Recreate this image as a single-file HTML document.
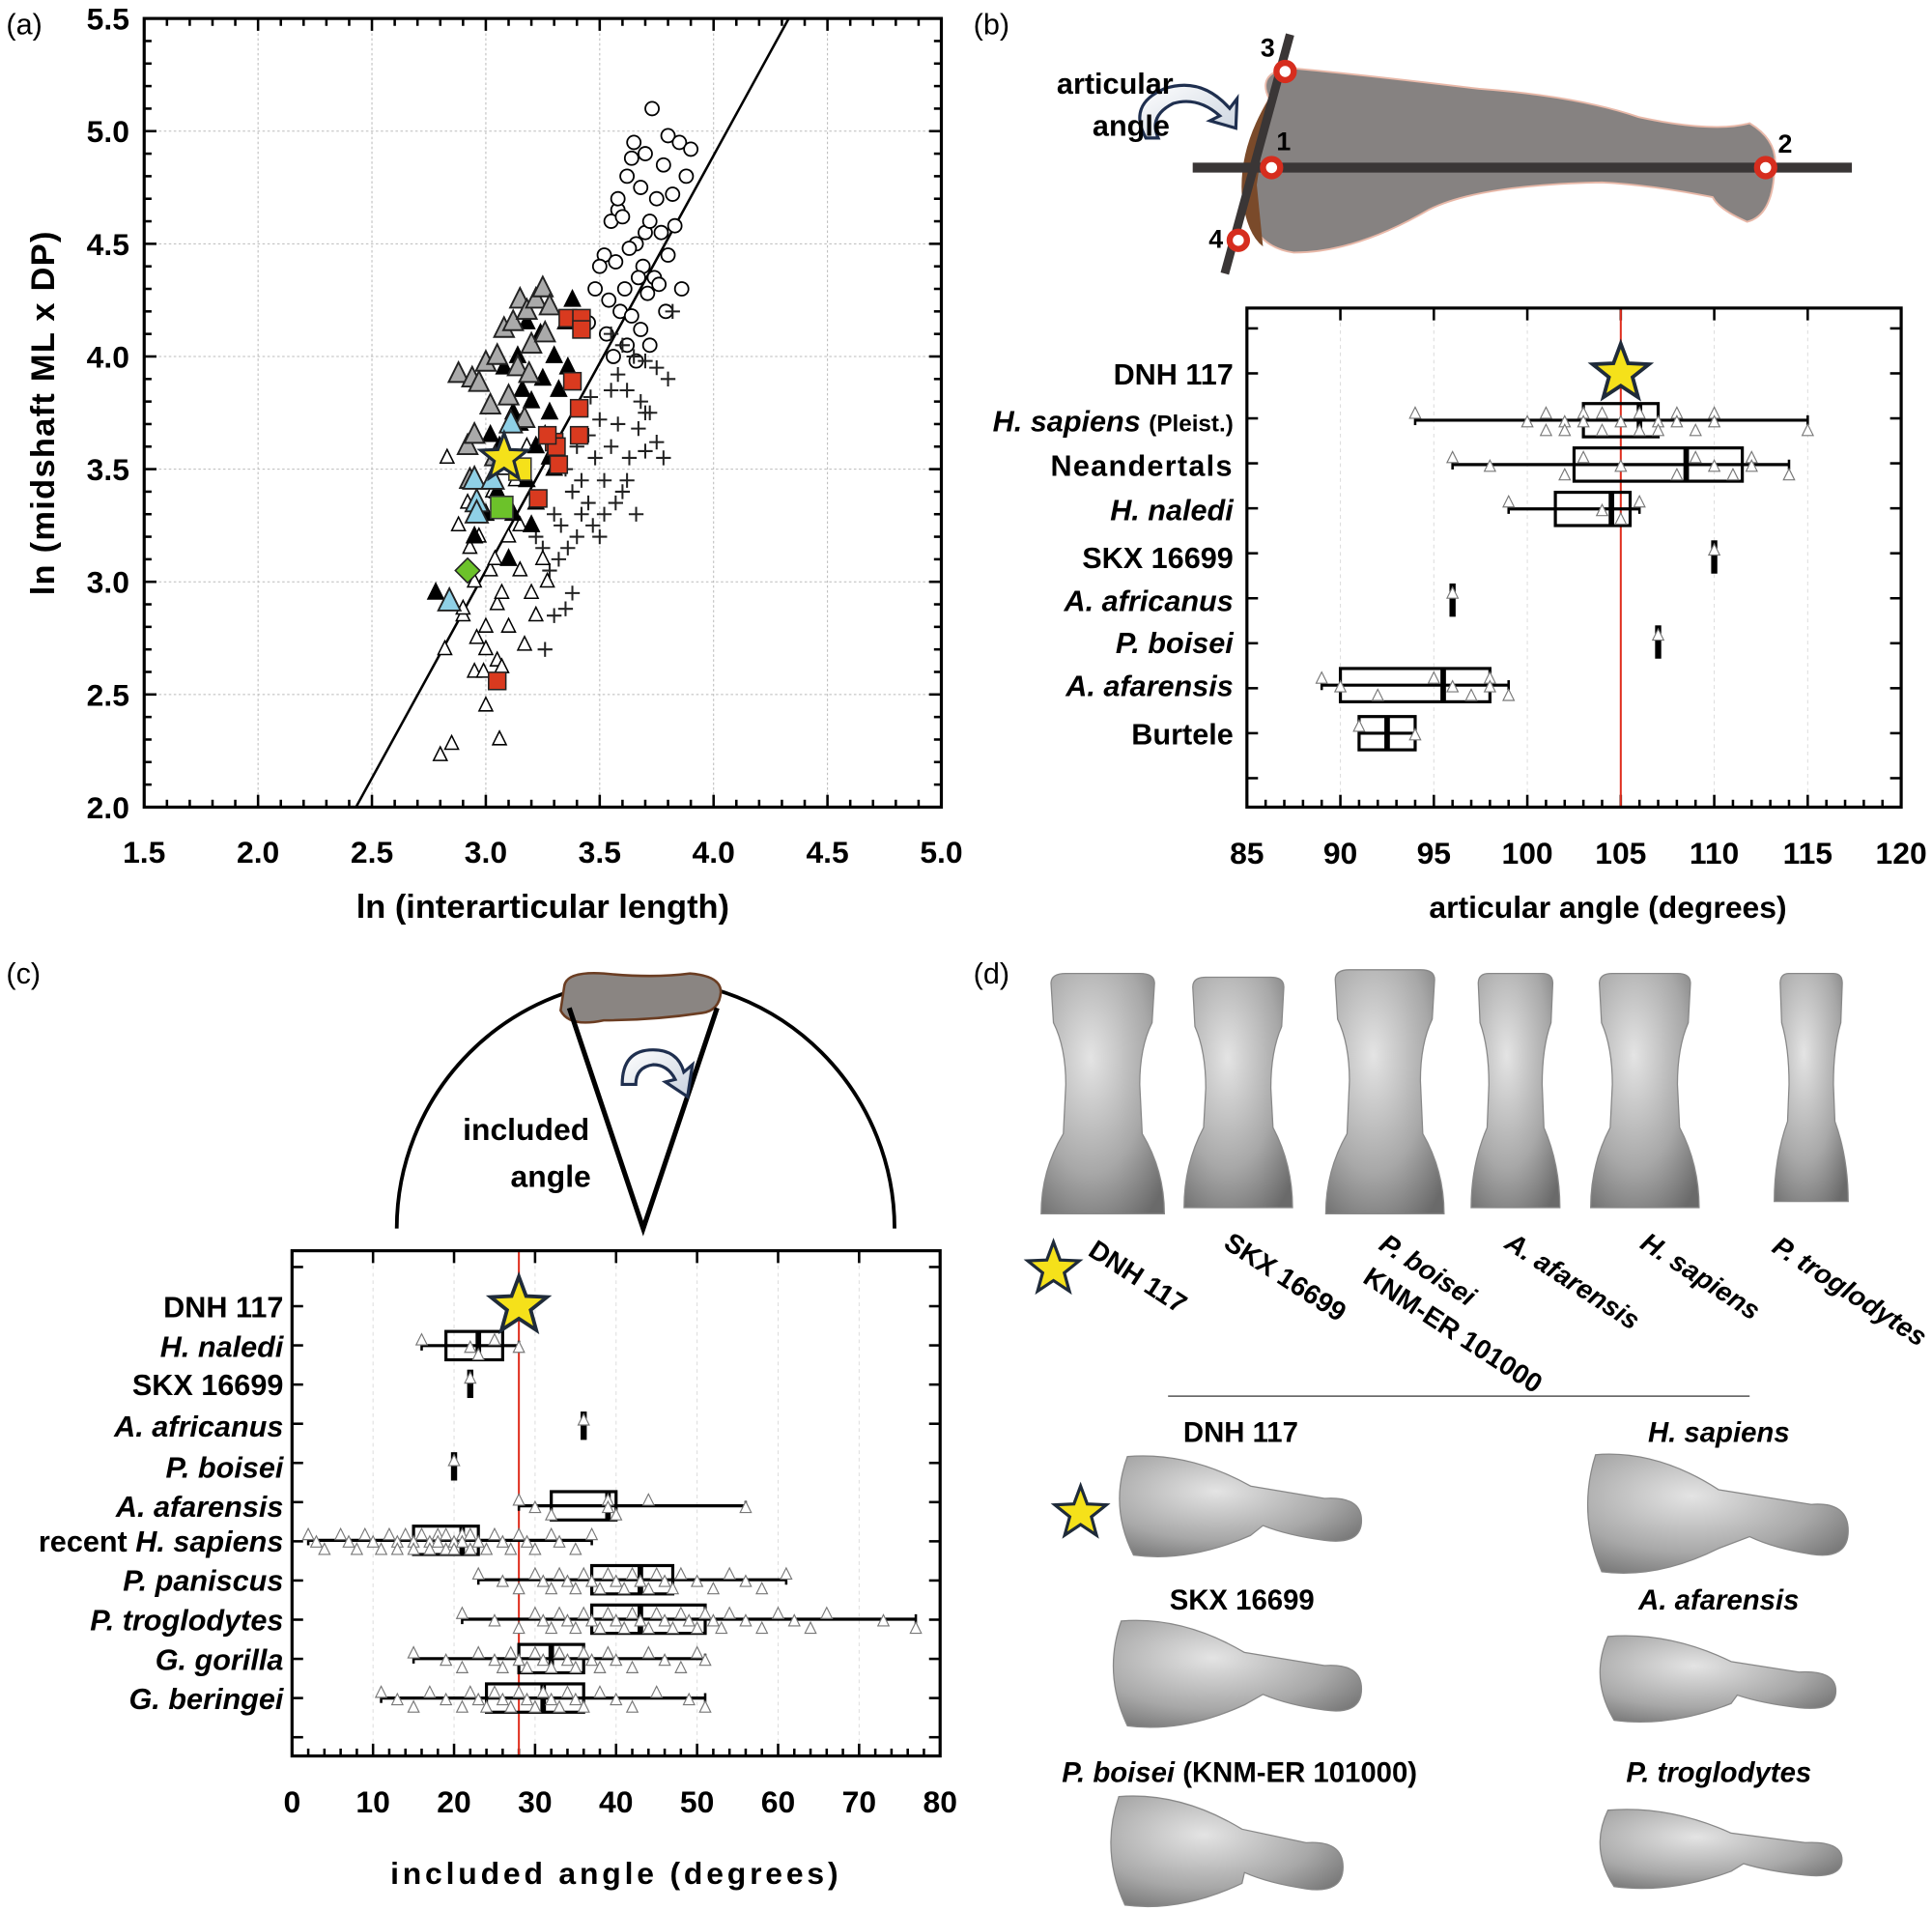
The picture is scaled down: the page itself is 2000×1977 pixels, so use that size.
<!DOCTYPE html>
<html><head><meta charset="utf-8">
<style>
html,body{margin:0;padding:0;background:#fff;}
svg{display:block;font-family:"Liberation Sans Narrow","Liberation Sans",sans-serif;}
.b{font-weight:bold;}
</style></head>
<body>
<svg id="fig" width="2000" height="1977" viewBox="0 0 1568 1550" xmlns="http://www.w3.org/2000/svg">
<defs>
<radialGradient id="boneG" cx="0.4" cy="0.35" r="0.8">
<stop offset="0" stop-color="#e4e4e4"/><stop offset="0.6" stop-color="#a8a8a8"/><stop offset="1" stop-color="#6a6a6a"/>
</radialGradient>
<linearGradient id="arrG" x1="0" y1="0" x2="1" y2="1"><stop offset="0" stop-color="#fff"/><stop offset="1" stop-color="#c9d2de"/></linearGradient>
</defs>
<g id="gA"></g>
<g id="gB"></g>
<g id="gC"></g>
<g id="gD"></g>
</svg>
<script>
// ===== Panel A data =====
const humanX=[3.73,3.65,3.70,3.80,3.85,3.78,3.62,3.68,3.75,3.82,3.58,3.55,3.60,3.70,3.72,3.66,3.77,3.83,3.52,3.50,3.57,3.63,3.69,3.74,3.80,3.48,3.54,3.61,3.67,3.71,3.76,3.59,3.64,3.45,3.53,3.86,3.79,3.68,3.62,3.56,3.72,3.66,3.90,3.88,3.58,3.64];
const humanY=[5.10,4.95,4.90,4.98,4.95,4.85,4.80,4.75,4.70,4.72,4.65,4.60,4.62,4.55,4.60,4.50,4.55,4.58,4.45,4.40,4.42,4.48,4.40,4.35,4.45,4.30,4.25,4.30,4.35,4.28,4.32,4.20,4.18,4.15,4.10,4.30,4.20,4.12,4.05,4.00,4.05,3.98,4.92,4.80,4.70,4.88];
const crossX=[3.55,3.60,3.65,3.70,3.75,3.80,3.62,3.68,3.72,3.58,3.50,3.45,3.40,3.48,3.55,3.63,3.70,3.78,3.52,3.42,3.35,3.38,3.45,3.60,3.66,3.30,3.33,3.40,3.47,3.57,3.25,3.32,3.28,3.36,3.50,3.62,3.70,3.42,3.38,3.30,3.26,3.35,3.22,3.55,3.82,3.67,3.75,3.58,3.46,3.52];
const crossY=[4.10,4.05,4.00,3.98,3.95,3.90,3.85,3.80,3.75,3.70,3.72,3.65,3.60,3.55,3.60,3.55,3.58,3.55,3.45,3.45,3.50,3.40,3.35,3.40,3.30,3.30,3.25,3.20,3.25,3.35,3.15,3.10,3.05,3.15,3.20,3.45,3.75,3.30,2.95,2.85,2.70,2.88,3.20,3.85,4.20,3.68,3.62,3.92,3.82,3.30];
const openTriX=[2.80,2.85,2.90,2.95,3.00,3.05,3.10,3.15,3.20,3.25,2.88,2.93,2.98,3.03,3.08,3.13,3.18,3.00,3.05,2.95,3.10,2.92,2.97,3.02,3.07,3.12,2.83,3.17,3.22,3.27,3.00,3.06,2.99,2.90,3.07,2.82,3.15,3.04,2.96];
const openTriY=[2.23,2.28,2.85,3.00,2.80,2.90,3.20,3.05,2.95,3.10,3.25,3.15,3.30,3.40,3.50,3.45,3.60,2.70,2.65,2.60,2.80,3.35,3.20,3.05,2.95,3.30,3.55,2.72,2.85,3.00,2.45,2.30,2.60,2.88,2.62,2.70,3.25,3.10,2.75];
const blackTriX=[2.78,2.95,3.00,3.05,3.10,3.15,3.20,3.25,3.30,3.35,3.12,3.18,3.22,3.28,3.32,3.38,3.08,3.14,3.24,3.26,3.20,3.16,3.10,3.30,3.36,3.02,3.18,3.22,3.12,3.28,3.06];
const blackTriY=[2.95,3.20,3.30,3.40,3.55,3.70,3.80,3.90,4.00,4.15,3.30,3.45,3.60,3.75,3.85,4.25,3.95,4.00,4.10,3.65,3.25,3.85,3.10,3.50,3.95,3.65,4.15,3.35,3.75,3.55,3.60];
const grayTriX=[2.88,2.94,2.97,2.92,2.95,3.00,3.05,3.08,3.12,3.15,3.18,3.22,3.25,3.28,3.14,3.20,3.02,3.10,2.93,3.17,3.26,3.04,3.19];
const grayTriY=[3.92,3.90,3.88,3.60,3.65,3.97,4.00,4.12,4.15,4.25,4.20,4.25,4.30,4.22,3.95,4.05,3.78,3.82,3.45,3.72,4.10,3.55,3.92];
const blueTriX=[2.84,2.96,2.96,2.95,3.11,3.03];
const blueTriY=[2.91,3.35,3.30,3.45,3.70,3.45];
const redSqX=[3.36,3.42,3.42,3.38,3.41,3.30,3.32,3.41,3.31,3.23,3.05,3.27];
const redSqY=[4.17,4.17,4.12,3.89,3.77,3.62,3.52,3.65,3.60,3.37,2.56,3.65];
const otherX=[3.15,3.07,2.92];
const otherY=[3.50,3.33,3.05];
const starAX=[3.08], starAY=[3.55];
const lineAX=[2.43,4.33], lineAY=[2.0,5.5];
const ticksA=["1.5","2.0","2.5","3.0","3.5","4.0","4.5","5.0"];
const ticksAY=["2.0","2.5","3.0","3.5","4.0","4.5","5.0","5.5"];

// ===== Panel B data =====
const catB=["DNH 117","H. sapiens","Neandertals","H. naledi","SKX 16699","A. africanus","P. boisei","A. afarensis","Burtele"];
const boxBLo=[null,103,102.5,101.5,110,96,107,90,91];
const boxBHi=[null,107,111.5,105.5,110,96,107,98,94];
const medB=[null,106,108.5,104.5,110,96,107,95.5,92.5];
const whLoB=[null,94,96,99,110,96,107,89,91];
const whHiB=[null,115,114,106,110,96,107,99,94];
const ptsB=[[],[94,100,101,101,102,102,103,103,104,104,105,106,106,107,107,108,108,109,110,110,115],[96,98,102,103,105,108,109,110,111,112,112,114],[99,104,105,106],[110],[96],[107],[89,90,92,95,96,97,98,98,99],[91,94]];
const starB=[105];
const ticksB=["85","90","95","100","105","110","115","120"];

// ===== Panel C data =====
const catC=["DNH 117","H. naledi","SKX 16699","A. africanus","P. boisei","A. afarensis","recent H. sapiens","P. paniscus","P. troglodytes","G. gorilla","G. beringei"];
const boxCLo=[null,19,22,36,20,32,15,37,37,28,24];
const boxCHi=[null,26,22,36,20,40,23,47,51,36,36];
const medC=[null,23,22,36,20,39,21,43,43,32,31];
const whLoC=[null,16,22,36,20,28,2,23,21,15,11];
const whHiC=[null,28,22,36,20,56,37,61,77,51,51];
const ptsC=[[],[16,22,23,25,28],[22],[36],[20],[28,30,32,39,39,40,44,56],
[2,3,4,6,7,8,9,10,11,12,13,13,14,15,15,16,17,17,18,18,19,19,20,20,21,21,22,22,23,24,25,26,27,28,29,30,32,33,35,37],
[23,26,28,30,31,32,33,34,35,36,37,38,39,40,41,42,43,44,45,46,47,48,50,52,54,56,58,61],
[21,25,28,30,31,32,33,34,35,36,37,38,39,40,41,42,43,44,45,46,47,48,49,50,51,52,53,54,56,58,60,62,64,66,73,77],
[15,19,21,23,25,26,27,28,29,30,31,32,33,34,35,36,37,38,39,40,42,44,46,48,50,51],
[11,13,15,17,19,21,22,23,24,25,26,27,28,29,30,31,32,33,34,35,36,38,40,42,45,49,51]];
const starC=[28];
const ticksC=["0","10","20","30","40","50","60","70","80"];

const NS="http://www.w3.org/2000/svg";
function mk(parent,tag,attrs){const e=document.createElementNS(NS,tag);for(const k in attrs)e.setAttribute(k,attrs[k]);parent.appendChild(e);return e;}
function starPts(cx,cy,R){let p=[];for(let i=0;i<10;i++){const r=i%2?R*0.42:R;const a=-Math.PI/2+i*Math.PI/5;p.push((cx+r*Math.cos(a)).toFixed(1)+","+(cy+r*Math.sin(a)).toFixed(1));}return p.join(" ");}
function triPts(cx,cy,s){return `${cx},${cy-s*0.62} ${cx-s/2},${cy+s*0.38} ${cx+s/2},${cy+s*0.38}`;}

// ===== Draw A =====
(function(){
const g=document.getElementById('gA');
const L=117,R=764,T=15,B=655;
const sx=v=>L+(v-1.5)/3.5*(R-L), sy=v=>B-(v-2)/3.5*(B-T);
let t=mk(g,'text',{x:5,y:28,'font-size':24});t.textContent='(a)';

for(let i=0;i<8;i++){const v=1.5+i*0.5;
 if(i>0&&i<7){let gl=mk(g,'line',{x1:sx(v),x2:sx(v),y1:T,y2:B,stroke:'#bbb','stroke-dasharray':'2,2','stroke-width':0.8});
 let gy=mk(g,'line',{y1:sy(2+i*0.5),y2:sy(2+i*0.5),x1:L,x2:R,stroke:'#bbb','stroke-dasharray':'2,2','stroke-width':0.8});}
 let tx=mk(g,'text',{x:sx(v),y:B+45,'text-anchor':'middle','font-size':25,class:'b'});tx.textContent=ticksA[i];
 
 let ty=mk(g,'text',{x:L-12,y:sy(2+i*0.5)+9,'text-anchor':'end','font-size':25,class:'b'});ty.textContent=ticksAY[i];
 
}
for(let k=0;k<=35;k++){const vx=1.5+k*0.1,vy=2+k*0.1;const len=(k%5==0)?10:6;
 mk(g,'line',{x1:sx(vx),x2:sx(vx),y1:B,y2:B-len,stroke:'#000','stroke-width':2});
 mk(g,'line',{x1:sx(vx),x2:sx(vx),y1:T,y2:T+len,stroke:'#000','stroke-width':2});
 mk(g,'line',{y1:sy(vy),y2:sy(vy),x1:L,x2:L+len,stroke:'#000','stroke-width':2});
 mk(g,'line',{y1:sy(vy),y2:sy(vy),x1:R,x2:R-len,stroke:'#000','stroke-width':2});}
let cp=mk(g,'clipPath',{id:'clipA'});mk(cp,'rect',{x:L,y:T,width:R-L,height:B-T});
let rl=mk(g,'line',{x1:sx(lineAX[0]),y1:sy(lineAY[0]),x2:sx(lineAX[1]),y2:sy(lineAY[1]),stroke:'#000','stroke-width':2,'clip-path':'url(#clipA)'});

humanX.forEach((x,i)=>{let c=mk(g,'circle',{cx:sx(x),cy:sy(humanY[i]),r:5.5,fill:'#fff',stroke:'#000','stroke-width':1.4});
 });
crossX.forEach((x,i)=>{const cx=sx(x),cy=sy(crossY[i]);let p=mk(g,'path',{d:`M${cx-6},${cy}H${cx+6}M${cx},${cy-6}V${cy+6}`,stroke:'#222','stroke-width':1.6});
 });
openTriX.forEach((x,i)=>{let p=mk(g,'polygon',{points:triPts(sx(x),sy(openTriY[i]),11),fill:'#fff',stroke:'#000','stroke-width':1.2});
 });
blackTriX.forEach((x,i)=>{let p=mk(g,'polygon',{points:triPts(sx(x),sy(blackTriY[i]),13),fill:'#000',stroke:'#000','stroke-width':1});
 });
grayTriX.forEach((x,i)=>{let p=mk(g,'polygon',{points:triPts(sx(x),sy(grayTriY[i]),16),fill:'#aaa',stroke:'#222','stroke-width':1.5});
 });
blueTriX.forEach((x,i)=>{let p=mk(g,'polygon',{points:triPts(sx(x),sy(blueTriY[i]),18),fill:'#8fd0e6',stroke:'#222','stroke-width':1.5});
 });
redSqX.forEach((x,i)=>{let p=mk(g,'rect',{x:sx(x)-7,y:sy(redSqY[i])-7,width:14,height:14,fill:'#d93a1f',stroke:'#222','stroke-width':1.2});
 });
let ys=mk(g,'rect',{x:sx(otherX[0])-9,y:sy(otherY[0])-9,width:18,height:18,fill:'#f5e11a',stroke:'#333','stroke-width':1.2});

let gs=mk(g,'rect',{x:sx(otherX[1])-9,y:sy(otherY[1])-9,width:18,height:18,fill:'#6cc22a',stroke:'#333','stroke-width':1.2});

let gd=mk(g,'polygon',{points:`${sx(otherX[2])},${sy(otherY[2])-10} ${sx(otherX[2])+10},${sy(otherY[2])} ${sx(otherX[2])},${sy(otherY[2])+10} ${sx(otherX[2])-10},${sy(otherY[2])}`,fill:'#6cc22a',stroke:'#222','stroke-width':1.2});

let st=mk(g,'polygon',{points:starPts(sx(starAX[0]),sy(starAY[0]),20),fill:'#f5e11a',stroke:'#1f2b3a','stroke-width':2.5});

let fr=mk(g,'rect',{x:L,y:T,width:R-L,height:B-T,fill:'none',stroke:'#000','stroke-width':2.5});

let xt=mk(g,'text',{x:(L+R)/2,y:745,'text-anchor':'middle','font-size':27,class:'b'});xt.textContent='ln (interarticular length)';

let yt=mk(g,'text',{x:0,y:0,'text-anchor':'middle','font-size':27,class:'b','letter-spacing':1,transform:`translate(44,${(T+B)/2}) rotate(-90)`});yt.textContent='ln (midshaft ML x DP)';

})();

// ===== Box plot helper =====
function boxPanel(g,o,cats,lo,hi,med,wlo,whi,pts,starV,ticks,tickStep,minorStep){
 const {L,R,T,B,v0,v1,rowY}=o;
 const sx=v=>L+(v-v0)/(v1-v0)*(R-L);
 for(let v=v0+tickStep;v<v1;v+=tickStep){let gl=mk(g,'line',{x1:sx(v),x2:sx(v),y1:T,y2:B,stroke:'#ddd','stroke-dasharray':'3,3','stroke-width':0.8});}
 for(let v=v0;v<=v1+0.001;v+=minorStep){const maj=Math.abs((v-v0)/tickStep-Math.round((v-v0)/tickStep))<1e-6;
  mk(g,'line',{x1:sx(v),x2:sx(v),y1:B,y2:B-(maj?10:6),stroke:'#000','stroke-width':2});
  if(maj) mk(g,'line',{x1:sx(v),x2:sx(v),y1:T,y2:T+10,stroke:'#000','stroke-width':2});}
 ticks.forEach((tk,i)=>{let t=mk(g,'text',{x:sx(v0+i*tickStep),y:B+46,'text-anchor':'middle','font-size':25,class:'b'});t.textContent=tk;
  });
 const rs=(rowY[rowY.length-1]-rowY[0])/(rowY.length-1);
 for(let k=-1;k<=cats.length;k++){const y=rowY[0]+k*rs;if(y<=T+3||y>=B-3)continue;
  mk(g,'line',{x1:L,x2:L+9,y1:y,y2:y,stroke:'#000','stroke-width':2});mk(g,'line',{x1:R,x2:R-9,y1:y,y2:y,stroke:'#000','stroke-width':2});}
 const vl=mk(g,'line',{x1:sx(starV[0]),x2:sx(starV[0]),y1:T,y2:B,stroke:'#e03020','stroke-width':1.6});
 
 cats.forEach((c,i)=>{const y=rowY[i];
  if(lo[i]===null)return;
  const h=o.boxH;
  if(hi[i]>lo[i]){
   let w=mk(g,'line',{x1:sx(wlo[i]),x2:sx(whi[i]),y1:y,y2:y,stroke:'#000','stroke-width':2.5});
   mk(g,'line',{x1:sx(wlo[i]),x2:sx(wlo[i]),y1:y-4,y2:y+4,stroke:'#000','stroke-width':2});
   mk(g,'line',{x1:sx(whi[i]),x2:sx(whi[i]),y1:y-4,y2:y+4,stroke:'#000','stroke-width':2});
   let bx=mk(g,'rect',{x:sx(lo[i]),y:y-h/2,width:sx(hi[i])-sx(lo[i]),height:h,fill:'none',stroke:'#000','stroke-width':2.5});
   let md=mk(g,'line',{x1:sx(med[i]),x2:sx(med[i]),y1:y-h/2,y2:y+h/2,stroke:'#000','stroke-width':4.5});
  } else {
   let md=mk(g,'rect',{x:sx(med[i])-2.5,y:y-h/2,width:5,height:h,fill:'#000'});
  }
  pts[i].forEach((v,j)=>{const dy=((j%3)-1)*o.jit;let p=mk(g,'polygon',{points:triPts(sx(v),y+dy+2,9),fill:'#fff',stroke:'#777','stroke-width':0.9});
   });
 });
 const s=mk(g,'polygon',{points:starPts(sx(starV[0]),rowY[0],o.starR),fill:'#f5e11a',stroke:'#1f2b3a','stroke-width':3});
 
 let fr=mk(g,'rect',{x:L,y:T,width:R-L,height:B-T,fill:'none',stroke:'#000','stroke-width':2.5});
 
}

// ===== Draw B =====
(function(){
const g=document.getElementById('gB');
let t=mk(g,'text',{x:790,y:28,'font-size':24});t.textContent='(b)';
let bone=mk(g,'path',{d:'M1030,80 Q1020,60 1045,55 Q1100,60 1200,72 Q1280,78 1330,95 Q1390,108 1420,100 Q1445,115 1440,140 Q1438,175 1418,180 Q1395,170 1390,160 Q1340,150 1300,148 Q1200,150 1160,170 Q1100,205 1050,205 Q1015,200 1010,160 Q1008,120 1030,80 Z',fill:'#868281',stroke:'#e8b8a8','stroke-width':1.5});

let br=mk(g,'path',{d:'M1030,80 Q1005,120 1008,160 Q1012,190 1025,200 L1020,150 Z',fill:'#7a4a2a'});
let hl=mk(g,'line',{x1:968,x2:1503,y1:136,y2:136,stroke:'#3a3636','stroke-width':8});
let tl=mk(g,'line',{x1:1047,y1:28,x2:994,y2:222,stroke:'#3a3636','stroke-width':7});
[[1043,58,'3',-20,-12],[1032,136,'1',4,-14],[1433,136,'2',10,-12],[1005,195,'4',-24,6]].forEach(p=>{
 let c=mk(g,'circle',{cx:p[0],cy:p[1],r:7,fill:'#fff',stroke:'#d62d1e','stroke-width':5});
 let tx=mk(g,'text',{x:p[0]+p[3],y:p[1]+p[4],'font-size':21,class:'b'});tx.textContent=p[2];});
let ar=mk(g,'path',{d:'M930,112 Q915,85 945,72 Q975,62 998,88 L1004,80 L1003,104 L982,98 L990,94 Q972,78 952,84 Q932,94 940,112 Z',fill:'url(#arrG)',stroke:'#1f2f4f','stroke-width':2.5});

let a1=mk(g,'text',{x:905,y:76,'text-anchor':'middle','font-size':24,class:'b'});a1.textContent='articular';
let a2=mk(g,'text',{x:918,y:110,'text-anchor':'middle','font-size':24,class:'b'});a2.textContent='angle';
const rowY=[303,341,377,413,452,487,521,556,595];
boxPanel(g,{L:1012,R:1543,T:250,B:655,v0:85,v1:120,rowY:rowY,boxH:27,jit:7,starR:24},catB,boxBLo,boxBHi,medB,whLoB,whHiB,ptsB,starB,ticksB,5,1);
const it=[false,true,false,true,false,true,true,true,false];
catB.forEach((c,i)=>{let tx=mk(g,'text',{x:1001,y:rowY[i]+9,'text-anchor':'end','font-size':24,class:'b','font-style':it[i]?'italic':'normal'});
 if(i==1){tx.textContent='H. sapiens ';let ts=mk(tx,'tspan',{'font-size':19,'font-style':'normal'});ts.textContent='(Pleist.)';}
 else if(i==2){tx.textContent='Neandertals';tx.setAttribute('letter-spacing','1');}
 else tx.textContent=c;
 });
let xt=mk(g,'text',{x:1305,y:745,'text-anchor':'middle','font-size':25,class:'b'});xt.textContent='articular angle (degrees)';

})();

// ===== Draw C =====
(function(){
const g=document.getElementById('gC');
let t=mk(g,'text',{x:5,y:798,'font-size':24});t.textContent='(c)';
let arc=mk(g,'path',{d:'M322,997 A200,200 0 0 1 726,997',fill:'none',stroke:'#000','stroke-width':3});
let bn=mk(g,'path',{d:'M458,800 Q460,788 490,790 Q530,794 560,790 Q585,792 585,805 Q584,820 570,822 Q530,828 490,828 Q462,834 455,820 Z',fill:'#8a8582',stroke:'#6b3d22','stroke-width':2});

let wd=mk(g,'path',{d:'M462,818 L522,997 L582,818',fill:'none',stroke:'#000','stroke-width':4});
let ar=mk(g,'path',{d:'M505,880 Q505,852 530,852 Q550,852 555,870 L562,864 L558,890 L540,878 L548,876 Q542,864 530,864 Q516,866 516,880 Z',fill:'url(#arrG)',stroke:'#1f2f4f','stroke-width':2.5});

let a1=mk(g,'text',{x:427,y:925,'text-anchor':'middle','font-size':25,class:'b'});a1.textContent='included';
let a2=mk(g,'text',{x:447,y:963,'text-anchor':'middle','font-size':25,class:'b'});a2.textContent='angle';
const rowY=[1060,1092,1123,1157,1190,1222,1250,1282,1314,1346,1378];
boxPanel(g,{L:237,R:763,T:1015,B:1425,v0:0,v1:80,rowY:rowY,boxH:23,jit:6,starR:24},catC,boxCLo,boxCHi,medC,whLoC,whHiC,ptsC,starC,ticksC,10,2);
const it=[false,true,false,true,true,true,false,true,true,true,true];
catC.forEach((c,i)=>{let tx=mk(g,'text',{x:230,y:rowY[i]+9,'text-anchor':'end','font-size':24,class:'b','font-style':it[i]?'italic':'normal'});
 if(i==6){tx.textContent='recent ';let ts=mk(tx,'tspan',{'font-style':'italic'});ts.textContent='H. sapiens';}
 else tx.textContent=c;
 });
let xt=mk(g,'text',{x:500,y:1529,'text-anchor':'middle','font-size':25,class:'b','letter-spacing':3});xt.textContent='included angle (degrees)';

})();

// ===== Draw D =====
(function(){
const g=document.getElementById('gD');
let t=mk(g,'text',{x:790,y:798,'font-size':24});t.textContent='(d)';
const vb=[[895,790,990,100],[1005,793,985,88],[1124,787,990,96],[1230,790,985,72],[1335,790,985,88],[1470,790,980,60]];
vb.forEach((b,i)=>{const [cx,y0,y1,w]=b;
 const d=`M${cx-0.42*w},${y0+8} Q${cx-0.42*w},${y0} ${cx-0.3*w},${y0} L${cx+0.3*w},${y0} Q${cx+0.42*w},${y0} ${cx+0.42*w},${y0+8} L${cx+0.4*w},${y0+40} Q${cx+0.3*w},${y0+60} ${cx+0.3*w},${y0+90} L${cx+0.32*w},${y1-70} Q${cx+0.5*w},${y1-40} ${cx+0.5*w},${y1-5} L${cx-0.5*w},${y1-5} Q${cx-0.5*w},${y1-40} ${cx-0.32*w},${y1-70} L${cx-0.3*w},${y0+90} Q${cx-0.3*w},${y0+60} ${cx-0.4*w},${y0+40} Z`;
 let p=mk(g,'path',{d:d,fill:'url(#boneG)',stroke:'#888','stroke-width':1});
 });
const labs=[['DNH 117',882,1018,false],['SKX 16699',992,1012,false],['P. boisei',1118,1013,true],['KNM-ER 101000',1105,1040,false],['A. afarensis',1220,1012,true],['H. sapiens',1330,1012,true],['P. troglodytes',1437,1015,true]];
labs.forEach(l=>{let tx=mk(g,'text',{x:0,y:0,'font-size':22,class:'b','font-style':l[3]?'italic':'normal',transform:`translate(${l[1]},${l[2]}) rotate(33)`});tx.textContent=l[0];
 });
[[855,1030],[877,1228]].forEach(s=>{let p=mk(g,'polygon',{points:starPts(s[0],s[1],22),fill:'#f5e11a',stroke:'#1f2b3a','stroke-width':2.5});
 });
let sep=mk(g,'line',{x1:948,x2:1420,y1:1133,y2:1133,stroke:'#555','stroke-width':1.2});
const hb=[[905,1105,1222,80],[1285,1500,1228,95],[900,1105,1358,85],[1295,1490,1362,68],[898,1090,1502,88],[1295,1495,1500,62]];
hb.forEach(b=>{const [x0,x1,ym,h]=b;const r=h/2;
 const d=`M${x0+10},${ym-r} Q${x0+60},${ym-r-4} ${x0+110},${ym-r*0.4} L${x1-30},${ym-r*0.15} Q${x1},${ym-r*0.2} ${x1},${ym+r*0.3} Q${x1},${ym+r*0.8} ${x1-30},${ym+r*0.7} Q${x1-60},${ym+r*0.6} ${x1-80},${ym+r*0.4} L${x0+110},${ym+r*0.6} Q${x0+60},${ym+r+6} ${x0+15},${ym+r} Q${x0-5},${ym} ${x0+10},${ym-r} Z`;
 let p=mk(g,'path',{d:d,fill:'url(#boneG)',stroke:'#888','stroke-width':1});
 });
const ll=[['DNH 117',1007,1170,false],['H. sapiens',1395,1170,true],['SKX 16699',1008,1306,false],['A. afarensis',1395,1306,true],['P. troglodytes',1395,1446,true]];
ll.forEach(l=>{let tx=mk(g,'text',{x:l[1],y:l[2],'text-anchor':'middle','font-size':23,class:'b','font-style':l[3]?'italic':'normal'});tx.textContent=l[0];
 });
let bl=mk(g,'text',{x:1006,y:1446,'text-anchor':'middle','font-size':23,class:'b'});
let bs=mk(bl,'tspan',{'font-style':'italic'});bs.textContent='P. boisei';
let bs2=mk(bl,'tspan',{});bs2.textContent=' (KNM-ER 101000)';

})();
</script>
</body></html>
